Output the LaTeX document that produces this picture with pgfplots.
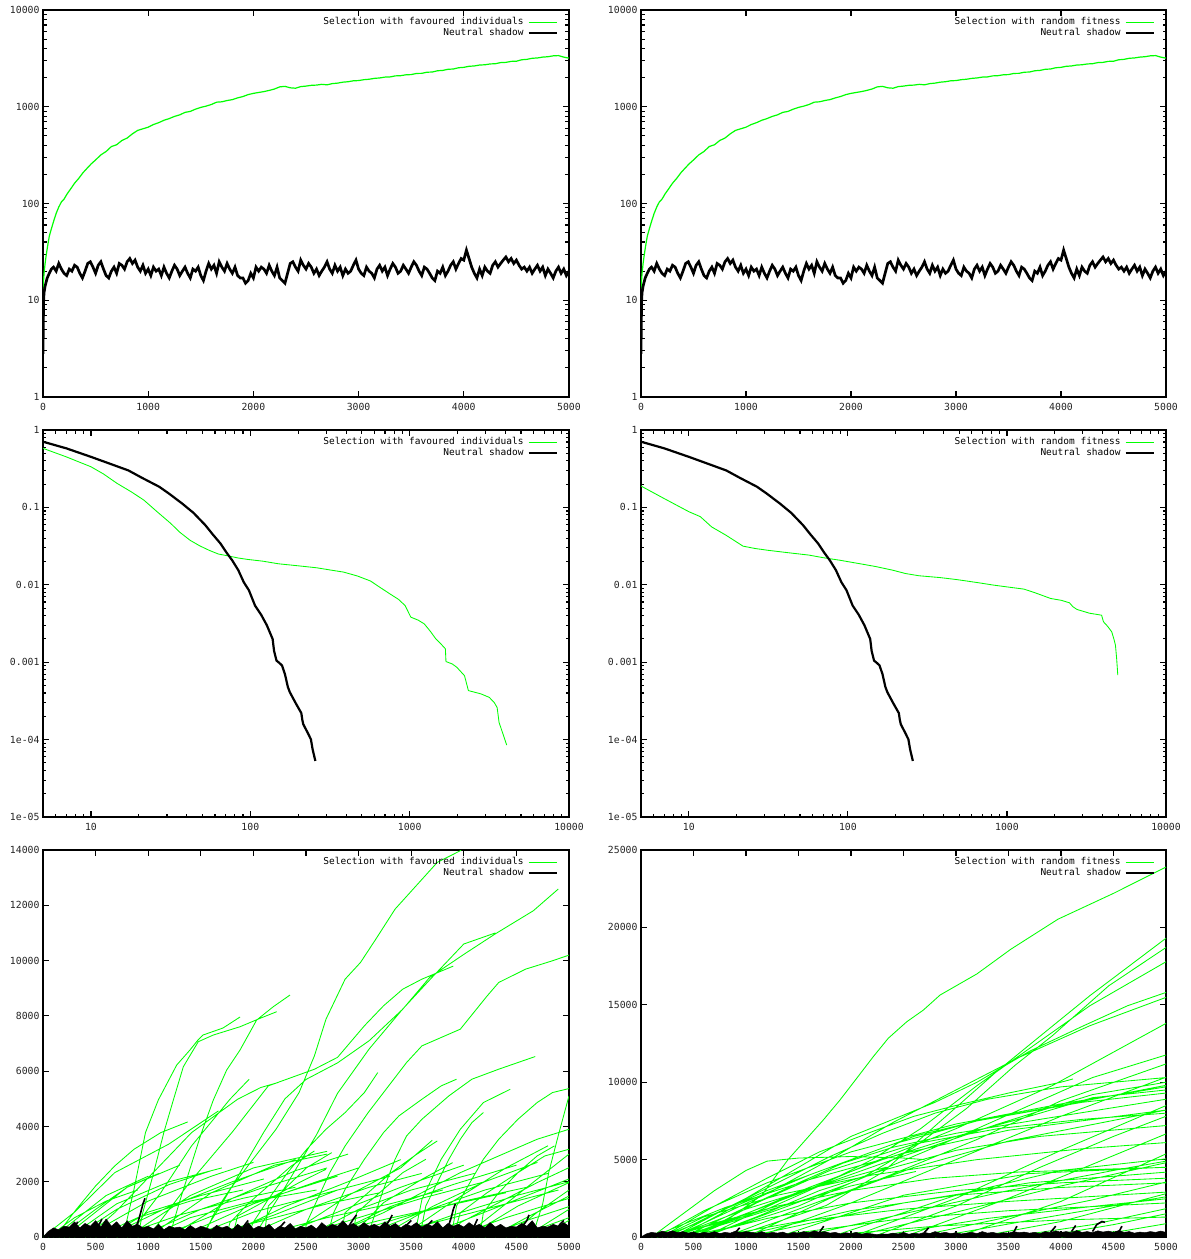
\documentclass[border=0pt]{standalone}
\usepackage{fontspec}
\setmainfont{DejaVu Sans Mono}
\usepackage{pgfplots}
\usepackage{pgfplotstable}
\pgfplotsset{compat=1.18}
\definecolor{gpgreen}{RGB}{0,255,0}

\pgfplotstableread{
x y
0 13
10 19
20 24
30 29
45 37
60 46
80 55
100 65
125 79
150 92
175 104
200 111
230 126
260 140
300 162
340 182
380 208
420 232
460 258
500 282
550 318
600 345
650 388
700 405
750 448
800 475
850 525
900 570
950 592
1000 615
1050 655
1100 685
1150 725
1200 755
1250 795
1300 825
1350 875
1400 895
1450 945
1500 985
1550 1015
1600 1055
1650 1115
1700 1125
1750 1160
1800 1185
1850 1235
1900 1275
1950 1335
2000 1375
2050 1405
2100 1435
2150 1475
2200 1525
2250 1605
2300 1625
2350 1570
2400 1555
2450 1615
2500 1635
2550 1665
2600 1675
2650 1705
2700 1685
2750 1735
2800 1755
2850 1795
2900 1815
2950 1855
3000 1865
3050 1905
3100 1925
3150 1965
3200 1985
3250 2025
3300 2035
3350 2085
3400 2095
3450 2140
3500 2150
3550 2210
3600 2215
3650 2275
3700 2285
3750 2355
3800 2375
3850 2440
3900 2455
3950 2530
4000 2555
4050 2620
4100 2640
4150 2700
4200 2715
4250 2770
4300 2785
4350 2860
4400 2875
4450 2945
4500 2955
4550 3060
4600 3090
4650 3170
4700 3195
4750 3260
4800 3290
4850 3360
4900 3380
4950 3260
5000 3180
}\topgreen

\pgfplotstableread{
x y
0 2.8
3 6
6 10
10 12
20 14
40 17
60 19
80 21
100 22
125 20
150 24
175 21
200 19
225 18
250 21
275 20
300 23
325 22
350 19
375 17
400 20
425 24
450 25
475 22
500 19
525 23
550 25
575 21
600 18
625 17
650 20
675 22
700 19
725 24
750 23
775 21
800 25
825 27
850 24
875 26
900 22
925 20
950 23
975 19
1000 21
1025 18
1050 22
1075 20
1100 21
1125 18
1150 22
1175 19
1200 17
1225 20
1250 23
1275 21
1300 18
1325 20
1350 22
1375 19
1400 17
1425 21
1450 20
1475 22
1500 18
1525 16
1550 20
1575 24
1600 21
1625 23
1650 19
1675 25
1700 22
1725 20
1750 24
1775 21
1800 19
1825 22
1850 18
1875 17
1900 17
1925 15
1950 16
1975 19
2000 17
2025 22
2050 20
2075 22
2100 21
2125 19
2150 23
2175 20
2200 18
2225 22
2250 17
2275 16
2300 15
2325 19
2350 24
2375 25
2400 22
2425 20
2450 26
2475 23
2500 21
2525 24
2550 22
2575 19
2600 21
2625 18
2650 20
2675 22
2700 25
2725 21
2750 19
2775 23
2800 20
2825 22
2850 18
2875 21
2900 19
2925 20
2950 23
2975 26
3000 21
3025 19
3050 18
3075 22
3100 20
3125 19
3150 17
3175 21
3200 23
3225 20
3250 22
3275 18
3300 21
3325 24
3350 22
3375 19
3400 20
3425 23
3450 21
3475 19
3500 22
3525 25
3550 23
3575 20
3600 18
3625 22
3650 21
3675 19
3700 17
3725 16
3750 20
3775 19
3800 22
3825 18
3850 20
3875 23
3900 25
3925 21
3950 24
3975 27
4000 26
4025 33
4050 27
4075 22
4100 19
4125 17
4150 21
4175 18
4200 22
4225 20
4250 19
4275 23
4300 25
4325 22
4350 24
4375 26
4400 28
4425 25
4450 27
4475 24
4500 26
4525 23
4550 21
4575 22
4600 20
4625 22
4650 19
4675 21
4700 23
4725 20
4750 22
4775 18
4800 21
4825 19
4850 17
4875 20
4900 22
4925 19
4950 21
4975 18
5000 20
}\topblack

\pgfplotstableread{
x y
5 0.706
7 0.58
10 0.45
13 0.37
17.2 0.30
21 0.24
26.8 0.185
31 0.15
37.4 0.112
44 0.085
52.2 0.059
58 0.045
65.1 0.034
71 0.026
77 0.0207
84 0.0155
91 0.0108
98 0.0085
107 0.0054
117 0.0041
127 0.003
138 0.002
141 0.0014
146 0.00105
152 0.00098
158 0.00091
165 0.0007
172 0.00048
177 0.00041
192 0.0003
209 0.00022
212 0.00018
215 0.000158
228 0.000125
240 0.000101
246 0.000075
256 0.000053
}\midblack

\pgfplotstableread{
x y
5 0.58
7 0.45
10 0.335
12 0.27
14.6 0.204
18 0.158
21.5 0.124
26 0.088
31.7 0.062
36 0.048
41.9 0.0376
48 0.032
55.2 0.0279
63 0.025
72.9 0.0236
84 0.0222
96 0.0213
120 0.0202
150 0.0187
200 0.0176
261 0.0166
320 0.0155
385 0.0146
470 0.013
568 0.0112
650 0.0093
750 0.00766
850 0.0065
936 0.0054
1017 0.00382
1130 0.0035
1235 0.00313
1350 0.0025
1460 0.002
1560 0.00175
1676 0.00149
1690 0.00102
1850 0.00095
1977 0.00086
2209 0.00067
2337 0.00043
2800 0.00039
3163 0.000351
3400 0.0003
3540 0.00026
3640 0.000167
4065 0.000085
}\midgreenL

\pgfplotstableread{
x y
5 0.189
7 0.13
10 0.088
11.8 0.076
13.9 0.056
17.1 0.0438
21.9 0.0316
26 0.0295
31.1 0.028
42 0.026
57 0.0242
70 0.0224
88.7 0.0208
123 0.0185
150 0.0172
190 0.0155
230 0.014
279 0.0131
380 0.0124
481 0.0117
650 0.0107
827 0.0099
1000 0.0094
1279 0.0088
1500 0.0079
1883 0.00666
2200 0.0063
2473 0.00585
2600 0.0052
2760 0.0048
3300 0.0043
3936 0.00405
4045 0.00333
4300 0.0029
4558 0.00247
4700 0.002
4810 0.00166
4893 0.00112
4977 0.00068
}\midgreenR

\pgfplotsset{
  gp/.style={
    scale only axis, anchor=south west, height=387pt,
    axis line style={line width=1.3pt},
    every tick/.style={black, line width=1.1pt},
    major tick length=6pt, minor tick length=3.5pt,
    tick align=inside,
    tick label style={font=\fontsize{9.8}{11}\selectfont, text=black!85},
    xticklabel style={yshift=-3pt},
    /pgf/number format/assume math mode=true,
    /pgf/number format/1000 sep={},
    scaled ticks=false,
    unbounded coords=jump,
    legend cell align=right, legend plot pos=right,
    legend style={draw=none, fill=none, inner sep=0pt, at={(rel axis cs:0.979,0.986)}, anchor=north east, font=\fontsize{9.5}{11}\selectfont, row sep=-2pt},
  },
  gline/.style={gpgreen, line width=0.85pt},
  tgline/.style={gpgreen, line width=1.2pt},
  bline/.style={black, line width=2.2pt},
  tbline/.style={black, line width=2.7pt},
}

\begin{document}
\begin{tikzpicture}
\useasboundingbox (0pt,0pt) rectangle (1191pt,-1259pt);

% ---------- top left ----------
\begin{axis}[gp, at={(43pt,-397pt)}, width=526pt,
  ymode=log, xmin=0, xmax=5000, ymin=1, ymax=10000,
  legend image code/.code={\path (0pt,0pt); \draw[#1] (2pt,0pt) -- (30pt,0pt);},
  xtick={0,1000,2000,3000,4000,5000},
  ytick={1,10,100,1000,10000}, yticklabels={1,10,100,1000,10000},
  minor ytick={2,3,4,5,6,7,8,9,20,30,40,50,60,70,80,90,200,300,400,500,600,700,800,900,2000,3000,4000,5000,6000,7000,8000,9000}]
\addlegendimage{gline}\addlegendentry{Selection with favoured individuals}
\addlegendimage{bline}\addlegendentry{Neutral shadow}
\addplot[tgline, forget plot] table {\topgreen};
\addplot[tbline, forget plot] table {\topblack};
\end{axis}

% ---------- top right ----------
\begin{axis}[gp, at={(641pt,-397pt)}, width=525pt,
  ymode=log, xmin=0, xmax=5000, ymin=1, ymax=10000,
  legend image code/.code={\path (0pt,0pt); \draw[#1] (2pt,0pt) -- (30pt,0pt);},
  xtick={0,1000,2000,3000,4000,5000},
  ytick={1,10,100,1000,10000}, yticklabels={1,10,100,1000,10000},
  minor ytick={2,3,4,5,6,7,8,9,20,30,40,50,60,70,80,90,200,300,400,500,600,700,800,900,2000,3000,4000,5000,6000,7000,8000,9000}]
\addlegendimage{gline}\addlegendentry{Selection with random fitness}
\addlegendimage{bline}\addlegendentry{Neutral shadow}
\addplot[tgline, forget plot] table {\topgreen};
\addplot[tbline, forget plot] table {\topblack};
\end{axis}

% ---------- middle left ----------
\begin{axis}[gp, at={(43pt,-817pt)}, width=526pt,
  xmode=log, ymode=log, xmin=5, xmax=10000, ymin=1e-5, ymax=1,
  legend image code/.code={\path (0pt,0pt); \draw[#1] (2pt,0pt) -- (30pt,0pt);},
  xtick={10,100,1000,10000}, xticklabels={10,100,1000,10000},
  minor xtick={6,7,8,9,20,30,40,50,60,70,80,90,200,300,400,500,600,700,800,900,2000,3000,4000,5000,6000,7000,8000,9000},
  ytick={1e-5,1e-4,0.001,0.01,0.1,1}, yticklabels={1e-05,1e-04,0.001,0.01,0.1,1},
  minor ytick={2e-5,3e-5,4e-5,5e-5,6e-5,7e-5,8e-5,9e-5,2e-4,3e-4,4e-4,5e-4,6e-4,7e-4,8e-4,9e-4,0.002,0.003,0.004,0.005,0.006,0.007,0.008,0.009,0.02,0.03,0.04,0.05,0.06,0.07,0.08,0.09,0.2,0.3,0.4,0.5,0.6,0.7,0.8,0.9}]
\addlegendimage{gline}\addlegendentry{Selection with favoured individuals}
\addlegendimage{bline}\addlegendentry{Neutral shadow}
\addplot[gline, forget plot] table {\midgreenL};
\addplot[bline, forget plot] table {\midblack};
\end{axis}

% ---------- middle right ----------
\begin{axis}[gp, at={(641pt,-817pt)}, width=525pt,
  xmode=log, ymode=log, xmin=5, xmax=10000, ymin=1e-5, ymax=1,
  legend image code/.code={\path (0pt,0pt); \draw[#1] (2pt,0pt) -- (30pt,0pt);},
  xtick={10,100,1000,10000}, xticklabels={10,100,1000,10000},
  minor xtick={6,7,8,9,20,30,40,50,60,70,80,90,200,300,400,500,600,700,800,900,2000,3000,4000,5000,6000,7000,8000,9000},
  ytick={1e-5,1e-4,0.001,0.01,0.1,1}, yticklabels={1e-05,1e-04,0.001,0.01,0.1,1},
  minor ytick={2e-5,3e-5,4e-5,5e-5,6e-5,7e-5,8e-5,9e-5,2e-4,3e-4,4e-4,5e-4,6e-4,7e-4,8e-4,9e-4,0.002,0.003,0.004,0.005,0.006,0.007,0.008,0.009,0.02,0.03,0.04,0.05,0.06,0.07,0.08,0.09,0.2,0.3,0.4,0.5,0.6,0.7,0.8,0.9}]
\addlegendimage{gline}\addlegendentry{Selection with random fitness}
\addlegendimage{bline}\addlegendentry{Neutral shadow}
\addplot[gline, forget plot] table {\midgreenR};
\addplot[bline, forget plot] table {\midblack};
\end{axis}

% ---------- bottom left ----------
\begin{axis}[gp, at={(43pt,-1237pt)}, width=526pt, xmin=0, xmax=5000, ymin=0, ymax=14000,
  legend image code/.code={\path (0pt,0pt); \draw[#1] (2pt,0pt) -- (30pt,0pt);},
  xtick={0,500,...,5000}, ytick={0,2000,...,14000}]
\addlegendimage{gline}\addlegendentry{Selection with favoured individuals}
\addlegendimage{bline}\addlegendentry{Neutral shadow}
\addplot[gline, forget plot] coordinates {
(1522,0)(1631,881)(1777,1726)(1996,2812)(2215,3898)(2434,5225)(2580,6553)(2690,7881)(2872,9329)(3018,9932)(3164,10777)(3347,11863)(3748,13553)(3967,13975)(4050,14300) (4050,nan)
(1500,0)(1700,1200)(1900,2500)(2100,3800)(2300,5000)(2500,5700)(2800,6300)(3100,7100)(3420,8243)(3675,9389)(4004,10234)(4296,10958)(4661,11803)(4898,12588) (4898,nan)
(2480,0)(2507,519)(2580,1122)(2726,2329)(2872,3295)(3091,4502)(3237,5226)(3456,6312)(3602,6915)(3748,7157)(3967,7519)(4223,8726)(4332,9208)(4588,9691)(4843,9993)(5000,10198) (5000,nan)
(2000,0)(2300,1800)(2600,3700)(2800,5200)(3100,6800)(3420,8250)(3700,9400)(4000,10600)(4300,11000) (4300,nan)
(1000,0)(1400,2000)(1800,3800)(2142,5467)(2580,6070)(2800,6500)(3055,7640)(3237,8364)(3420,8967)(3602,9329)(3900,9800) (3900,nan)
(3090,0)(3128,519)(3237,1726)(3347,2812)(3456,3657)(3602,4260)(3858,5105)(4077,5709)(4332,6071)(4679,6529) (4679,nan)
(3880,0)(3931,1122)(4040,1846)(4186,2812)(4332,3536)(4515,4260)(4697,4864)(4843,5226)(5000,5370) (5000,nan)
(4650,0)(4750,1200)(4807,2329)(4900,3700)(5000,5105) (5000,nan)
(3530,0)(3602,1364)(3785,2812)(3967,3898)(4186,4864)(4442,5346) (4442,nan)
(2700,0)(2763,881)(2872,1726)(3055,2812)(3237,3777)(3383,4381)(3602,4984)(3785,5467)(3931,5709) (3931,nan)
(3580,0)(3639,1122)(3748,1967)(3858,2812)(3967,3536)(4077,4139)(4186,4502) (4186,nan)
(1950,0)(1996,519)(2142,1364)(2325,2329)(2507,3174)(2690,3898)(2872,4502)(3055,5226)(3182,5950) (3182,nan)
(830,0)(865,278)(974,881)(1120,1605)(1266,2450)(1412,3295)(1595,4139)(1777,4984)(1960,5709) (1960,nan)
(450,0)(500,278)(682,881)(865,1605)(1047,2329)(1230,3053)(1412,3777)(1631,4381)(1850,4984)(2069,5407)(2234,5588) (2234,nan)
(130,0)(172,278)(317,1002)(500,1846)(682,2571)(865,3174)(1120,3777)(1376,4164) (1376,nan)
(760,0)(792,519)(865,1726)(974,3777)(1096,4956)(1271,6222)(1397,6765)(1473,7127)(1521,7307)(1711,7561)(1873,7959) (1873,nan)
(900,0)(950,900)(1050,2300)(1150,3800)(1239,4956)(1334,6161)(1476,7065)(1619,7307)(1873,7607)(2063,7910)(2221,8150) (2221,nan)
(1200,0)(1300,1300)(1400,2500)(1500,3700)(1619,4956)(1746,6041)(1873,6765)(2031,7850)(2189,8331)(2348,8754) (2348,nan)
(2830,0)(2872,278)(3237,881)(3602,1605)(3967,2329)(4332,2933)(4697,3536)(5000,3898) (5000,nan)
(3900,0)(3967,881)(4223,1605)(4515,2329)(4770,2933)(5000,3174) (5000,nan)
(3900,0)(3967,519)(4332,1243)(4697,1967)(5000,2510) (5000,nan)
(4100,0)(4150,278)(4515,1122)(5000,1967) (5000,nan)
(4300,0)(4332,157)(4624,760)(5000,1484) (5000,nan)
(4650,0)(4697,278)(5000,1002) (5000,nan)
(4150,0)(4186,881)(4332,1605)(4515,2329)(4697,2933)(4861,3295) (4861,nan)
(3000,0)(3055,519)(3237,1243)(3602,2088)(3894,2691) (3894,nan)
(2940,0)(2982,881)(3200,1605)(3420,2329)(3639,2812) (3639,nan)
(2830,0)(2872,881)(3091,1605)(3310,2329)(3529,2933)(3748,3476) (3748,nan)
(1800,0)(1850,760)(2142,1364)(2434,1967)(2690,2450) (2690,nan)
(1740,0)(1777,519)(1960,1243)(2142,1846)(2361,2571)(2580,3114) (2580,nan)
(2100,0)(2142,1122)(2325,1846)(2507,2510)(2745,3053) (2745,nan)
(0,0)(300,900)(682,2329)(1193,3355)(1668,4562) (1668,nan)
(100,0)(600,1500)(1000,2200) (1000,nan)
(200,0)(800,1800)(1300,2600) (1300,nan)
(300,0)(700,1000)(1200,1900)(1600,2400) (1600,nan)
(400,0)(1000,1300)(1600,2200)(2000,2700) (2000,nan)
(600,0)(1200,1100)(1800,2000)(2400,2800) (2400,nan)
(900,0)(1500,1000)(2100,1800)(2700,2500) (2700,nan)
(1100,0)(1700,900)(2300,1600)(2800,2200) (2800,nan)
(1300,0)(2000,1200)(2600,2000)(3000,2500) (3000,nan)
(1600,0)(2200,800)(2800,1700)(3300,2200) (3300,nan)
(1900,0)(2500,1000)(3100,1800)(3600,2300) (3600,nan)
(2200,0)(2800,900)(3400,1800)(4000,2600) (4000,nan)
(2400,0)(3000,700)(3600,1400)(4200,2000) (4200,nan)
(2700,0)(3300,1100)(3900,1900)(4500,2600) (4500,nan)
(3000,0)(3600,900)(4200,1700)(4800,2300) (4800,nan)
(3300,0)(3900,800)(4500,1500)(5000,2000) (5000,nan)
(3600,0)(4200,900)(4800,1800)(5000,2100) (5000,nan)
(3900,0)(4400,700)(5000,1400) (5000,nan)
(4200,0)(4600,600)(5000,1100) (5000,nan)
(4500,0)(5000,700) (5000,nan)
(500,0)(900,700)(1400,1300)(1900,1700) (1900,nan)
(700,0)(1300,800)(1900,1400)(2400,1800) (2400,nan)
(1500,0)(2100,600)(2700,1200)(3200,1600) (3200,nan)
(2000,0)(2700,700)(3300,1200)(3800,1700) (3800,nan)
(2600,0)(3200,600)(3800,1100)(4400,1600) (4400,nan)
(3100,0)(3700,500)(4300,1100)(4900,1700) (4900,nan)
(50,0)(300,700)(600,1300)(900,1700) (900,nan)
(150,0)(500,1000)(800,1800)(1100,2300) (1100,nan)
(800,0)(1400,1500)(2000,2500)(2700,3100) (2700,nan)
(1000,0)(1600,1600)(2200,2600)(2700,3000) (2700,nan)
(1200,0)(1800,1400)(2400,2400)(2900,3000) (2900,nan)
(2300,0)(2900,1500)(3400,2500)(3700,3500) (3700,nan)
(250,0)(700,1200)(1200,2000)(1700,2500) (1700,nan)
(1400,0)(2000,900)(2600,1500)(3100,2000) (3100,nan)
(1700,0)(2300,1100)(2900,2000)(3400,2800) (3400,nan)
(2500,0)(3000,1000)(3500,1700)(4100,2300) (4100,nan)
(3200,0)(3700,1100)(4200,2000)(4700,2700) (4700,nan)
(3400,0)(3900,1300)(4400,2500)(4800,3300) (4800,nan)
(4000,0)(4400,1200)(4800,2400)(5000,3000) (5000,nan)
(4400,0)(4700,900)(5000,1700) (5000,nan)
(600,0)(1000,900)(1500,1500)(2100,2100) (2100,nan)
(1000,0)(1400,700)(2000,1300)(2600,1700) (2600,nan)
(2800,0)(3400,700)(4000,1300)(4600,1800) (4600,nan)
(4700,0)(4900,400)(5000,600)
};
\addplot[black, fill=black, line width=0.5pt, forget plot] coordinates {
(0,0)(50,200)(100,330)(150,260)(200,390)(250,360)(300,550)(350,330)(400,490)(450,390)(500,590)(550,360)(600,650)(650,390)(700,550)(750,330)(800,590)(850,390)(900,460)(950,330)(1000,390)(1050,290)(1100,460)(1150,260)(1200,390)(1250,330)(1300,360)(1350,260)(1400,420)(1450,290)(1500,390)(1550,330)(1600,260)(1650,420)(1700,330)(1750,390)(1800,260)(1850,460)(1900,330)(1950,520)(2000,290)(2050,390)(2100,330)(2150,460)(2200,260)(2250,390)(2300,330)(2350,490)(2400,290)(2450,390)(2500,330)(2550,430)(2600,290)(2650,520)(2700,360)(2750,460)(2800,390)(2850,590)(2900,390)(2950,490)(3000,360)(3050,520)(3100,390)(3150,460)(3200,360)(3250,550)(3300,390)(3350,490)(3400,330)(3450,460)(3500,390)(3550,520)(3600,360)(3650,460)(3700,390)(3750,550)(3800,330)(3850,490)(3900,390)(3950,460)(4000,360)(4050,520)(4100,390)(4150,460)(4200,330)(4250,520)(4300,360)(4350,460)(4400,330)(4450,390)(4500,360)(4550,490)(4600,390)(4650,590)(4700,330)(4750,390)(4800,360)(4850,460)(4900,390)(4950,520)(5000,390)(5000,0)
};
\addplot[black, line width=1.6pt, forget plot] coordinates {
(850,250)(900,500)(930,900)(950,1200)(970,1400) (970,nan)
(500,300)(540,500)(560,650) (560,nan)
(300,350)(330,550) (330,nan)
(1900,350)(1950,600) (1950,nan)
(2250,350)(2300,550) (2300,nan)
(2900,350)(2950,650)(2980,800) (2980,nan)
(3250,350)(3300,650)(3320,800) (3320,nan)
(3450,400)(3500,600) (3500,nan)
(3650,400)(3700,600) (3700,nan)
(3850,350)(3880,700)(3900,1000)(3920,1200) (3920,nan)
(4100,400)(4130,650) (4130,nan)
(4550,350)(4600,600)(4620,800) (4620,nan)
(4900,400)(4950,600)
};
\end{axis}

% ---------- bottom right ----------
\begin{axis}[gp, at={(641pt,-1237pt)}, width=525pt, xmin=0, xmax=5000, ymin=0, ymax=25000,
  legend image code/.code={\path (0pt,0pt); \draw[#1] (2pt,0pt) -- (30pt,0pt);},
  xtick={0,500,...,5000}, ytick={0,5000,...,25000}]
\addlegendimage{gline}\addlegendentry{Selection with random fitness}
\addlegendimage{bline}\addlegendentry{Neutral shadow}
\addplot[gline, forget plot] coordinates {
(150,0)(400,300)(800,1000)(1150,2700)(1400,5000)(1736,7560)(1895,8850)(2054,10250)(2212,11650)(2355,12840)(2530,13900)(2689,14660)(2848,15630)(3200,17000)(3522,18590)(3971,20530)(4500,22200)(5000,23900) (5000,nan)
(700,0)(1000,300)(1765,2040)(2303,4190)(2661,6340)(3020,8490)(3379,10640)(3845,13220)(4275,15590)(5000,19300) (5000,nan)
(400,0)(900,700)(1500,2000)(2100,3800)(2600,5800)(3100,8300)(3558,11070)(3917,13000)(4455,16230)(5000,18700) (5000,nan)
(300,0)(600,500)(1200,1800)(1700,3300)(2200,5000)(2661,6990)(3200,9780)(3737,12360)(4275,14940)(5000,17780) (5000,nan)
(200,0)(500,800)(1000,2500)(1500,4500)(2000,6500)(2400,7600)(2800,8700)(3200,10000)(3700,12000)(4200,13600)(4634,14940)(5000,15800) (5000,nan)
(300,0)(600,900)(1200,2800)(1800,5000)(2400,7400)(3000,9500)(3600,11600)(4275,13650)(5000,15480) (5000,nan)
(400,0)(800,1000)(1500,2800)(2200,4800)(3000,7000)(3917,9780)(5000,13800) (5000,nan)
(600,0)(1200,1500)(2000,3500)(2800,5800)(3600,8200)(4300,10300)(5000,11760) (5000,nan)
(800,0)(1500,1800)(2300,3800)(3200,6300)(4000,8800)(5000,11180) (5000,nan)
(100,0)(400,1500)(700,3000)(1000,4300)(1200,4900)(1500,5100)(2000,5200)(2500,5100)(2700,5000) (2700,nan)
(200,0)(700,2000)(1200,3800)(1700,5500)(2200,6800)(2600,7800)(3000,8500)(3500,9300)(4000,10000)(4114,10210) (4114,nan)
(300,0)(800,1800)(1300,3500)(1800,5200)(2300,6700)(2800,8000)(3300,8900)(4000,9700)(5000,10300) (5000,nan)
(400,0)(900,1600)(1500,3500)(2000,5000)(2600,6500)(3200,7500)(4000,8500)(5000,9800) (5000,nan)
(250,0)(700,1500)(1200,3000)(1800,4500)(2400,5800)(3000,6700)(3800,7600)(5000,8900) (5000,nan)
(600,0)(1100,1300)(1700,3000)(2300,4300)(3000,5600)(3800,6500)(5000,7200) (5000,nan)
(500,0)(1000,1500)(1600,3200)(2300,5000)(3000,6500)(3700,7800)(4300,9000)(5000,9500) (5000,nan)
(100,0)(800,1900)(1600,3700)(2500,5400)(3500,6900)(5000,8200) (5000,nan)
(1100,0)(2000,2200)(3000,5000)(4000,7800)(5000,10320) (5000,nan)
(2000,0)(3000,2500)(4000,5600)(5000,8490) (5000,nan)
(2500,0)(3500,2500)(4300,4700)(5000,6660) (5000,nan)
(3000,0)(4000,2300)(5000,5370) (5000,nan)
(1800,0)(3000,2700)(4000,4300)(5000,5050) (5000,nan)
(1300,0)(2500,2700)(3700,4100)(5000,4510) (5000,nan)
(1000,0)(2500,2200)(3700,3500)(5000,4190) (5000,nan)
(2600,0)(3500,1300)(4300,2400)(5000,3550) (5000,nan)
(3200,0)(4000,1000)(5000,2800) (5000,nan)
(2200,0)(3300,1200)(4200,1900)(5000,2470) (5000,nan)
(3500,0)(4300,800)(5000,1830) (5000,nan)
(1600,0)(2800,700)(4000,1100)(5000,1290) (5000,nan)
(4000,0)(4600,400)(5000,860) (5000,nan)
(700,0)(1500,1000)(2500,1800)(3500,2300)(4500,2700)(5000,2900) (5000,nan)
(500,0)(1200,1200)(2000,2200)(3000,3000)(4000,3500)(5000,3800) (5000,nan)
(300,0)(1000,1800)(1700,3300)(2338,4514) (2338,nan)
(400,0)(1200,1700)(2000,3300)(2618,4235) (2618,nan)
(150,0)(600,1700)(1200,3500)(2000,5500)(3000,7300)(4000,8600)(5000,9700) (5000,nan)
(350,0)(900,2000)(1600,4000)(2400,6000)(3200,7500)(4200,8700)(5000,9300) (5000,nan)
(200,0)(600,1300)(1300,2700)(2200,4000)(3200,5000)(4200,5700)(5000,6100) (5000,nan)
(1500,0)(2500,1500)(3500,3000)(4500,4300)(5000,4900) (5000,nan)
(2000,0)(3000,1600)(4000,3300)(5000,4800) (5000,nan)
(900,0)(2000,1700)(3000,2700)(4000,3200)(5000,3500) (5000,nan)
(1200,0)(2500,1200)(3500,1700)(5000,2200) (5000,nan)
(2800,0)(3800,1200)(5000,2600) (5000,nan)
(3800,0)(4500,800)(5000,1500) (5000,nan)
(600,0)(1400,2600)(2400,5000)(3400,7300)(4300,9200)(5000,10000) (5000,nan)
(500,0)(1100,2200)(1800,4300)(2600,6000)(3400,7000)(4200,7600)(5000,8000) (5000,nan)
(1000,0)(1800,2500)(2600,4500)(3500,6200)(4400,7400)(5000,8200) (5000,nan)
(2200,0)(3000,2000)(3800,4500)(4500,6500)(5000,7800) (5000,nan)
(300,0)(700,900)(1300,2000)(2000,3000)(2800,3800)(3600,4200)(4500,4400)(5000,4500)
};
\addplot[black, fill=black, line width=0.5pt, forget plot] coordinates {
(0,0)(50,200)(100,300)(150,250)(200,380)(250,300)(300,400)(350,280)(400,350)(450,250)(500,320)(550,220)(600,300)(650,250)(700,350)(750,220)(800,300)(850,250)(900,380)(950,280)(1000,350)(1050,300)(1100,250)(1150,350)(1200,220)(1250,300)(1300,250)(1350,320)(1400,200)(1450,300)(1500,250)(1550,350)(1600,280)(1650,400)(1700,300)(1750,350)(1800,250)(1850,300)(1900,200)(1950,280)(2000,220)(2050,300)(2100,180)(2150,250)(2200,200)(2250,150)(2300,200)(2350,180)(2400,250)(2450,200)(2500,300)(2550,180)(2600,250)(2650,200)(2700,300)(2750,220)(2800,350)(2850,250)(2900,300)(2950,220)(3000,280)(3050,200)(3100,250)(3150,300)(3200,220)(3250,350)(3300,250)(3350,300)(3400,220)(3450,280)(3500,250)(3550,350)(3600,280)(3650,320)(3700,250)(3750,300)(3800,220)(3850,350)(3900,280)(3950,400)(4000,300)(4050,350)(4100,280)(4150,420)(4200,300)(4250,350)(4300,280)(4350,400)(4400,320)(4450,380)(4500,300)(4550,420)(4600,300)(4650,350)(4700,250)(4750,320)(4800,280)(4850,350)(4900,300)(4950,380)(5000,300)(5000,0)
};
\addplot[black, line width=1.6pt, forget plot] coordinates {
(4300,350)(4340,800)(4390,1000)(4420,950) (4420,nan)
(3900,300)(3950,700) (3950,nan)
(3550,300)(3580,700) (3580,nan)
(4100,350)(4140,750) (4140,nan)
(2700,300)(2740,600) (2740,nan)
(1700,300)(1740,700) (1740,nan)
(900,300)(940,600) (940,nan)
(4550,300)(4580,700)
};
\end{axis}
\end{tikzpicture}
\end{document}
